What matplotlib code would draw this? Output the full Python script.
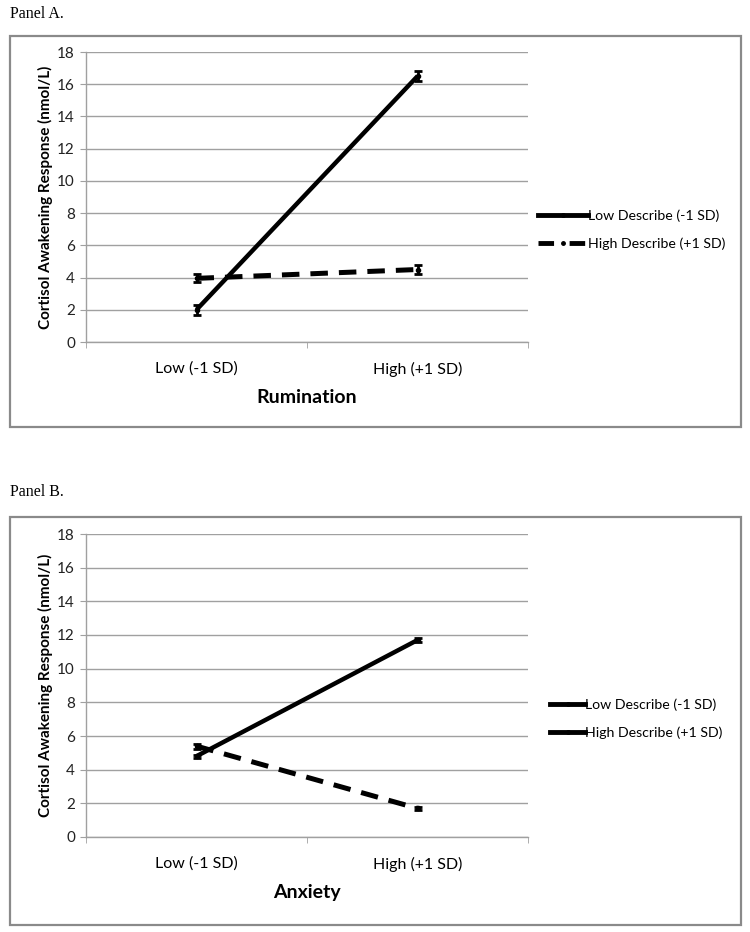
import matplotlib
matplotlib.use("Agg")
import matplotlib.pyplot as plt
from matplotlib.patches import Rectangle
from matplotlib.lines import Line2D

categories = ["Low (-1 SD)", "High (+1 SD)"]
series_names = ["Low Describe (-1 SD)", "High Describe (+1 SD)"]

a_low_describe = [2.0, 16.5]
a_low_describe_err = [0.3, 0.3]
a_high_describe = [3.95, 4.5]
a_high_describe_err = [0.25, 0.25]

b_low_describe = [4.8, 11.7]
b_low_describe_err = [0.1, 0.1]
b_high_describe = [5.4, 1.7]
b_high_describe_err = [0.15, 0.1]

yticks = list(range(0, 19, 2))

W, H = 750, 932
fig = plt.figure(figsize=(W / 100, H / 100), dpi=100)
SANS = ["Lato", "DejaVu Sans"]
SERIF = ["Liberation Serif", "DejaVu Serif"]
GRID = "#a0a0a0"


def px_axes(left, top, right, bottom):
    return fig.add_axes([left / W, 1 - bottom / H, (right - left) / W, (bottom - top) / H])


def draw_box(left, top, right, bottom):
    fig.add_artist(Rectangle((left / W, 1 - bottom / H), (right - left) / W, (bottom - top) / H,
                             transform=fig.transFigure, fill=False, edgecolor="#8a8a8a", lw=1.6))


def panel(top_box, bottom_box, top, bottom, label, label_y, xlabel, low, low_err, high, high_err,
          legend_y, legend_x, handlelength, dashed_handle):
    fig.text(10 / W, 1 - label_y / H, label, family=SERIF, fontsize=11.5, va="center", ha="left")
    draw_box(10, top_box, 741, bottom_box)
    ax = px_axes(86, top, 528, bottom)
    x = [0, 1]
    ax.errorbar(x, low, yerr=low_err, color="black", lw=3.2, capsize=3, capthick=2, elinewidth=2,
                marker="o", ms=3, solid_capstyle="butt", label=series_names[0])
    l2 = ax.errorbar(x, high, yerr=high_err, color="black", lw=3.6, capsize=3, capthick=2, elinewidth=2,
                     marker="o", ms=3, label=series_names[1])
    l2[0].set_dashes((3.5, 2.2))
    ax.set_xlim(-0.5, 1.5)
    ax.set_ylim(0, 18)
    ax.set_yticks(yticks)
    ax.set_yticklabels([str(v) for v in yticks], family=SANS, fontsize=11, color="#222222")
    ax.set_xticks(x)
    ax.set_xticklabels(categories, family=SANS, fontsize=11.5)
    ax.tick_params(axis="x", length=0, pad=14)
    ax.tick_params(axis="y", length=4, color=GRID, pad=4)
    ax.set_xticks([-0.5, 0.5, 1.5], minor=True)
    ax.tick_params(axis="x", which="minor", length=4, color=GRID)
    ax.grid(axis="y", color=GRID, lw=1)
    ax.set_axisbelow(True)
    for s in ["top", "right"]:
        ax.spines[s].set_visible(False)
    for s in ["left", "bottom"]:
        ax.spines[s].set_color(GRID)
        ax.spines[s].set_linewidth(1)
    ax.set_xlabel(xlabel, family=SANS, fontsize=14, fontweight="bold", labelpad=9)
    ax.set_ylabel("Cortisol Awakening Response (nmol/L)", family=SANS, fontsize=11,
                  fontweight="bold", labelpad=3)
    h2 = Line2D([], [], color="black", lw=3.5, marker="o", ms=2.5, markevery=[1])
    if dashed_handle:
        h2.set_dashes((3.2, 3.2))
    handles = [Line2D([], [], color="black", lw=3.5, marker="o", ms=2.5, markevery=[1]), h2]
    fig.legend(handles, series_names, loc="center left",
               bbox_to_anchor=(legend_x / W, 1 - legend_y / H), frameon=False,
               prop={"family": SANS, "size": 10.2}, handlelength=handlelength, handletextpad=0.0,
               labelspacing=1.1, borderaxespad=0, borderpad=0)
    return ax


panel(36, 427, 52, 342, "Panel A.", 14, "Rumination",
      a_low_describe, a_low_describe_err, a_high_describe, a_high_describe_err, 230, 538, 3.5, True)
panel(517, 925, 534, 837, "Panel B.", 492, "Anxiety",
      b_low_describe, b_low_describe_err, b_high_describe, b_high_describe_err, 719, 550, 2.5, False)

fig.savefig("out.png", dpi=100, facecolor="white")
